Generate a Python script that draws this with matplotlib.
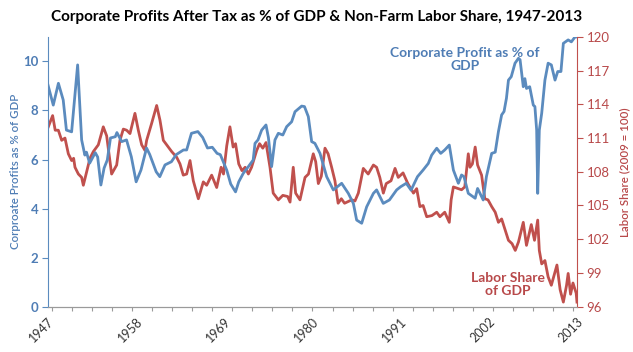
import matplotlib
matplotlib.use("Agg")
import matplotlib.pyplot as plt
from matplotlib.ticker import MultipleLocator, FixedLocator

plt.rcParams['font.family'] = ['Lato', 'DejaVu Sans']

profit_years = [1947.0, 1947.66, 1948.3, 1948.9, 1949.3, 1949.95, 1950.7, 1951.2, 1951.6, 1951.8,
                1952.2, 1952.9, 1953.2, 1953.6, 1954.0, 1954.4, 1954.8, 1955.4, 1955.6, 1956.2,
                1956.8, 1957.4, 1958.0, 1958.6, 1959.3, 1959.7, 1960.5, 1960.95, 1961.6, 1962.4,
                1963.0, 1963.9, 1964.3, 1964.9, 1965.7, 1966.3, 1966.9, 1967.5, 1968.1, 1968.5,
                1969.3, 1969.8, 1970.4, 1970.8, 1971.37, 1972.0, 1972.6, 1972.83, 1973.2, 1973.66,
                1974.2, 1974.5, 1974.9, 1975.32, 1975.74, 1976.3, 1976.78, 1977.4, 1977.82, 1978.65,
                1979.0, 1979.48, 1979.9, 1980.3, 1980.94, 1981.77, 1982.6, 1983.64, 1984.47, 1985.1,
                1985.51, 1986.14, 1986.76, 1987.6, 1988.0, 1988.83, 1989.6, 1990.5, 1991.0, 1991.7,
                1992.3, 1993.1, 1993.8, 1994.45, 1994.87, 1995.5, 1996.0, 1996.5, 1997.07, 1997.58,
                1998.2, 1998.6, 1998.9, 1999.44, 2000.3, 2000.6, 2001.3, 2001.7, 2002.36, 2002.8,
                2003.2, 2003.6, 2003.9, 2004.2, 2004.45, 2004.8, 2005.27, 2005.7, 2005.9, 2006.3,
                2006.5, 2006.7, 2007.1, 2007.55, 2007.75, 2007.97, 2008.1, 2008.3, 2008.6, 2009.0,
                2009.4, 2009.8, 2010.26, 2010.6, 2011.0, 2011.3, 2011.9, 2012.3, 2012.75, 2013.0]
profit_values = [9.04, 8.22, 9.11, 8.43, 7.2, 7.13, 9.86, 6.8, 6.18, 6.3,
                 5.85, 6.28, 6.1, 4.96, 5.65, 5.98, 6.88, 6.93, 7.1, 6.73,
                 6.8, 6.11, 5.09, 5.57, 6.47, 6.2, 5.5, 5.3, 5.78, 5.91,
                 6.2, 6.39, 6.39, 7.07, 7.14, 6.9, 6.47, 6.5, 6.25, 6.2,
                 5.57, 5.0, 4.68, 5.09, 5.44, 5.71, 5.98, 6.66, 6.8, 7.2,
                 7.41, 6.9, 5.71, 6.8, 7.07, 7.0, 7.34, 7.54, 7.95, 8.18,
                 8.16, 7.75, 6.73, 6.66, 6.25, 5.3, 4.76, 5.03, 4.62, 4.21,
                 3.53, 3.4, 4.07, 4.62, 4.76, 4.21, 4.35, 4.76, 4.89, 5.03,
                 4.75, 5.3, 5.57, 5.84, 6.18, 6.46, 6.25, 6.39, 6.59, 5.57,
                 5.03, 5.37, 5.3, 4.62, 4.42, 4.82, 4.35, 5.3, 6.25, 6.3,
                 7.14, 7.82, 7.96, 8.5, 9.24, 9.38, 9.93, 10.13, 10.07, 8.97,
                 9.3, 8.9, 8.97, 8.22, 8.16, 7.2, 4.62, 7.2, 7.89, 9.24,
                 9.93, 9.86, 9.24, 9.59, 9.59, 10.74, 10.88, 10.8, 11.0, 11.0]

labor_years = [1947.04, 1947.58, 1947.9, 1948.29, 1948.71, 1949.12, 1949.54, 1949.95, 1950.2, 1950.37,
               1950.79, 1951.2, 1951.41, 1951.83, 1952.24, 1952.66, 1953.28, 1953.9, 1954.32, 1954.94,
               1955.57, 1955.98, 1956.4, 1956.81, 1957.23, 1957.85, 1958.27, 1958.69, 1959.1, 1959.31,
               1959.93, 1960.56, 1960.97, 1961.39, 1962.01, 1962.43, 1963.05, 1963.47, 1963.88, 1964.3,
               1964.72, 1965.13, 1965.76, 1966.38, 1966.8, 1967.42, 1968.05, 1968.6, 1968.9, 1969.3,
               1969.7, 1970.1, 1970.4, 1970.8, 1971.2, 1971.6, 1972.0, 1972.4, 1973.04, 1973.4,
               1973.8, 1974.2, 1974.7, 1975.1, 1975.74, 1976.3, 1976.9, 1977.2, 1977.6, 1977.9,
               1978.44, 1979.07, 1979.5, 1980.1, 1980.4, 1980.73, 1981.1, 1981.56, 1981.95, 1982.39,
               1982.8, 1983.2, 1983.6, 1984.0, 1984.9, 1985.3, 1985.72, 1986.34, 1986.95, 1987.6,
               1988.0, 1988.4, 1988.84, 1989.2, 1989.8, 1990.3, 1990.7, 1991.3, 1991.9, 1992.6,
               1993.0, 1993.4, 1993.8, 1994.25, 1994.9, 1995.5, 1995.9, 1996.5, 1997.07, 1997.3,
               1997.58, 1998.2, 1998.6, 1999.0, 1999.44, 1999.65, 1999.95, 2000.3, 2000.6, 2001.1,
               2001.5, 2001.9, 2002.36, 2002.8, 2003.2, 2003.6, 2004.0, 2004.45, 2004.9, 2005.3,
               2005.7, 2006.3, 2006.7, 2007.3, 2007.7, 2008.1, 2008.3, 2008.6, 2009.0, 2009.4,
               2009.8, 2010.5, 2010.9, 2011.3, 2011.7, 2011.9, 2012.2, 2012.5, 2012.9, 2013.0]
labor_values = [112.0, 113.0, 111.7, 111.7, 110.8, 111.0, 109.6, 109.0, 109.2, 108.4,
                107.8, 107.5, 106.8, 108.0, 109.2, 109.8, 110.4, 112.0, 111.2, 107.8,
                108.6, 110.8, 111.8, 111.7, 111.4, 113.2, 111.7, 110.4, 109.9, 110.8,
                112.3, 113.9, 112.6, 110.8, 110.2, 109.8, 109.3, 108.7, 107.7, 107.8,
                109.0, 107.2, 105.6, 107.1, 106.8, 107.7, 106.6, 108.4, 107.8, 110.3,
                112.0, 110.2, 110.5, 108.7, 108.1, 108.4, 107.8, 108.4, 109.9, 110.5,
                110.1, 110.6, 108.4, 106.1, 105.5, 105.9, 105.8, 105.3, 108.4, 106.1,
                105.5, 107.5, 107.8, 109.6, 108.9, 106.95, 107.6, 110.1, 109.6, 108.4,
                107.2, 105.2, 105.6, 105.2, 105.5, 105.4, 106.1, 108.3, 107.8, 108.6,
                108.4, 107.5, 106.1, 106.95, 107.2, 108.3, 107.5, 107.9, 106.95, 106.1,
                106.5, 104.9, 105.0, 104.0, 104.1, 104.4, 104.0, 104.4, 103.5, 105.5,
                106.65, 106.5, 106.4, 106.65, 109.6, 108.4, 108.7, 110.2, 108.6, 107.7,
                105.6, 105.5, 104.9, 104.4, 103.5, 103.8, 102.9, 101.9, 101.6, 101.0,
                101.75, 103.5, 101.45, 103.3, 101.9, 103.7, 101.0, 99.8, 100.1, 98.65,
                97.9, 99.7, 97.5, 96.4, 97.9, 98.95, 97.1, 98.1, 97.2, 96.4]

year_labels = [1947, 1958, 1969, 1980, 1991, 2002, 2013]
left_ticks = [0, 2, 4, 6, 8, 10]
right_ticks = [96, 99, 102, 105, 108, 111, 114, 117, 120]

title = "Corporate Profits After Tax as % of GDP & Non-Farm Labor Share, 1947-2013"

BLUE = "#5B8BBE"
RED = "#C0504D"
BLUE_TXT = "#4F7DB5"
RED_TXT = "#B8494A"

fig = plt.figure(figsize=(6.33, 3.52), dpi=100)
ax = fig.add_axes([0.0758, 0.129, 0.9115 - 0.0758, 0.895 - 0.129])
ax2 = ax.twinx()

ax.plot(profit_years, profit_values, color=BLUE, lw=2.0, zorder=3, solid_joinstyle='round')
ax2.plot(labor_years, labor_values, color=RED, lw=2.0, zorder=2, solid_joinstyle='round')
ax.set_zorder(ax2.get_zorder() + 1)
ax.patch.set_visible(False)

ax.set_xlim(1947, 2013)
ax.set_ylim(0, 11)
ax2.set_ylim(96, 120)

ax.set_yticks(left_ticks)
ax2.set_yticks(right_ticks)

# x axis: labels every 11 years (no mark), tick marks every 2.5 years
ax.xaxis.remove_overlapping_locs = False
ax.xaxis.set_major_locator(FixedLocator(year_labels))
ax.set_xticklabels([str(y) for y in year_labels])
ax.xaxis.set_minor_locator(MultipleLocator(2.5))
ax.tick_params(axis='x', which='minor', length=3, width=0.8, color='#9A9A9A', direction='out')
ax.tick_params(axis='x', which='major', length=0, pad=6, labelsize=9, labelcolor='#333333')
for lab in ax.get_xticklabels():
    lab.set_rotation(45)
    lab.set_ha('right')
    lab.set_va('top')
    lab.set_rotation_mode('anchor')

ax.tick_params(axis='y', length=4, width=0.8, color=BLUE, labelcolor=BLUE_TXT, labelsize=9.5,
               direction='out', pad=3)
ax2.tick_params(axis='y', length=4, width=0.8, color=RED, labelcolor=RED_TXT, labelsize=9.5,
                direction='out', pad=3)
for lab in ax.get_yticklabels():
    lab.set_fontweight('bold')

for a in (ax, ax2):
    a.spines['top'].set_visible(False)
    a.spines['bottom'].set_color('#9A9A9A')
ax.spines['left'].set_color(BLUE)
ax.spines['right'].set_visible(False)
ax2.spines['left'].set_visible(False)
ax2.spines['right'].set_color(RED)

ax.set_ylabel("Corproate Profits as % of GDP", color=BLUE_TXT, fontsize=8.3, fontweight='semibold',
              labelpad=1)
ax2.set_ylabel("Labor Share (2009 = 100)", color=RED_TXT, fontsize=8.3, fontweight='semibold',
               labelpad=7)

fig.text(0.5, 0.952, title, ha='center', va='center', fontsize=11, fontweight='bold', color='black')

ax.text(1999.0, 10.1, "Corporate Profit as % of\nGDP", color=BLUE_TXT, fontsize=10, fontweight='bold',
        ha='center', va='center', linespacing=1.1)
ax2.text(2004.4, 98.0, "Labor Share\nof GDP", color=RED_TXT, fontsize=10, fontweight='bold',
         ha='center', va='center', linespacing=1.1)

fig.savefig("out.png", dpi=100)
